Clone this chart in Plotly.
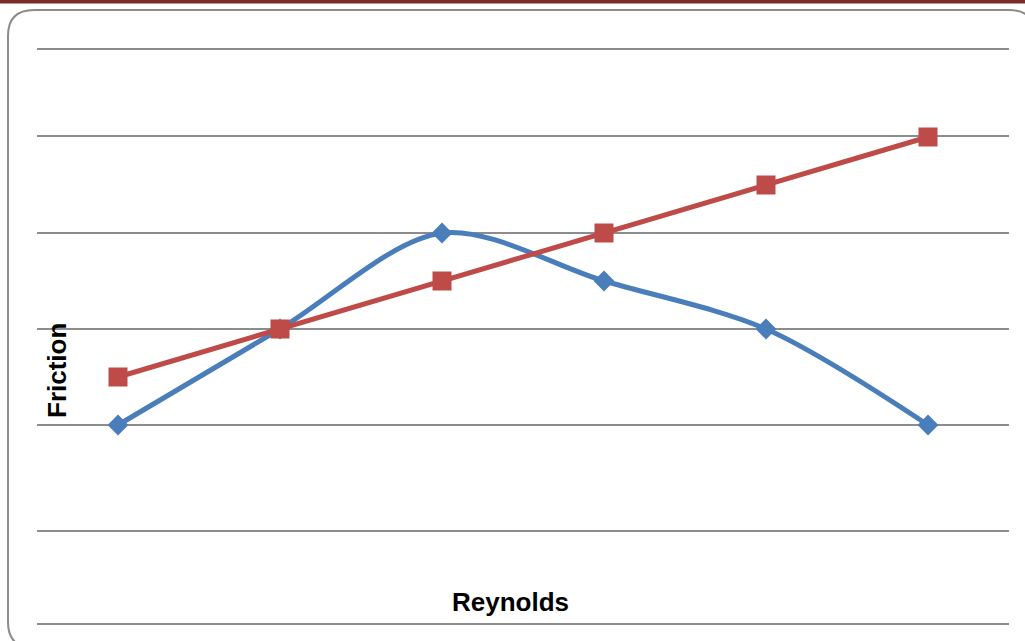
import plotly.graph_objects as go

categories = ["1", "2", "3", "4", "5", "6"]
blue_values = [2.0, 3.0, 4.0, 3.5, 3.0, 2.0]
red_values = [2.5, 3.0, 3.5, 4.0, 4.5, 5.0]
grid_values = [-0.07, 0.9, 2.0, 3.0, 4.0, 5.01, 5.92]

W, H = 1025, 641
L, R, T, B = 37, 16, 45, 13
PW, PH = W - L - R, H - T - B
y_top = 2 + (425 - T) / 96.0
y_bot = 2 - (H - B - 425) / 96.0

def px(x):
    return (x - L) / PW

def py(y):
    return (H - B - y) / PH

fig = go.Figure()
xs = list(range(len(categories)))
fig.add_trace(go.Scatter(
    x=xs, y=blue_values, mode="lines+markers", name="Series1",
    line=dict(color="#4a7ebb", width=5, shape="spline", smoothing=0.9),
    marker=dict(symbol="diamond", size=16, color="#4a7ebb"),
))
fig.add_trace(go.Scatter(
    x=xs, y=red_values, mode="lines+markers", name="Series2",
    line=dict(color="#be4b48", width=5),
    marker=dict(symbol="square", size=19, color="#be4b48"),
))

# rounded border
x0, y0, x1, y1, r = 8, 10, 1035, 648, 26
path = (f"M {px(x0+r)},{py(y0)} L {px(x1-r)},{py(y0)} Q {px(x1)},{py(y0)} {px(x1)},{py(y0+r)} "
        f"L {px(x1)},{py(y1-r)} Q {px(x1)},{py(y1)} {px(x1-r)},{py(y1)} "
        f"L {px(x0+r)},{py(y1)} Q {px(x0)},{py(y1)} {px(x0)},{py(y1-r)} "
        f"L {px(x0)},{py(y0+r)} Q {px(x0)},{py(y0)} {px(x0+r)},{py(y0)} Z")
shapes = [
    dict(type="path", xref="paper", yref="paper", path=path,
         line=dict(color="#8c8c8c", width=2), layer="below"),
    dict(type="rect", xref="paper", yref="paper", x0=px(0), x1=px(W), y0=py(0), y1=py(3.5),
         fillcolor="#7b2a2a", line=dict(width=0), layer="below"),
]

fig.update_layout(
    width=W, height=H,
    margin=dict(l=L, r=R, t=T, b=B, autoexpand=False),
    paper_bgcolor="white", plot_bgcolor="white",
    showlegend=False,
    shapes=shapes,
    xaxis=dict(range=[-0.5, 5.5], showgrid=False, zeroline=False, showticklabels=False,
               showline=False, ticks=""),
    yaxis=dict(range=[y_bot, y_top], tickvals=grid_values, showticklabels=False,
               showgrid=True, gridcolor="#8c8c8c", gridwidth=2, zeroline=False,
               showline=False, ticks=""),
    annotations=[
        dict(text="<b>Friction</b>", xref="paper", yref="paper", x=px(57), y=py(371),
             xanchor="center", yanchor="middle",
             showarrow=False, textangle=-90, font=dict(family="Liberation Sans, Arial", size=26, color="black")),
        dict(text="<b>Reynolds</b>", xref="paper", yref="paper", x=px(510), y=py(602),
             xanchor="center", yanchor="middle",
             showarrow=False, font=dict(family="Liberation Sans, Arial", size=26, color="black")),
    ],
)

fig.write_html("out.html")
